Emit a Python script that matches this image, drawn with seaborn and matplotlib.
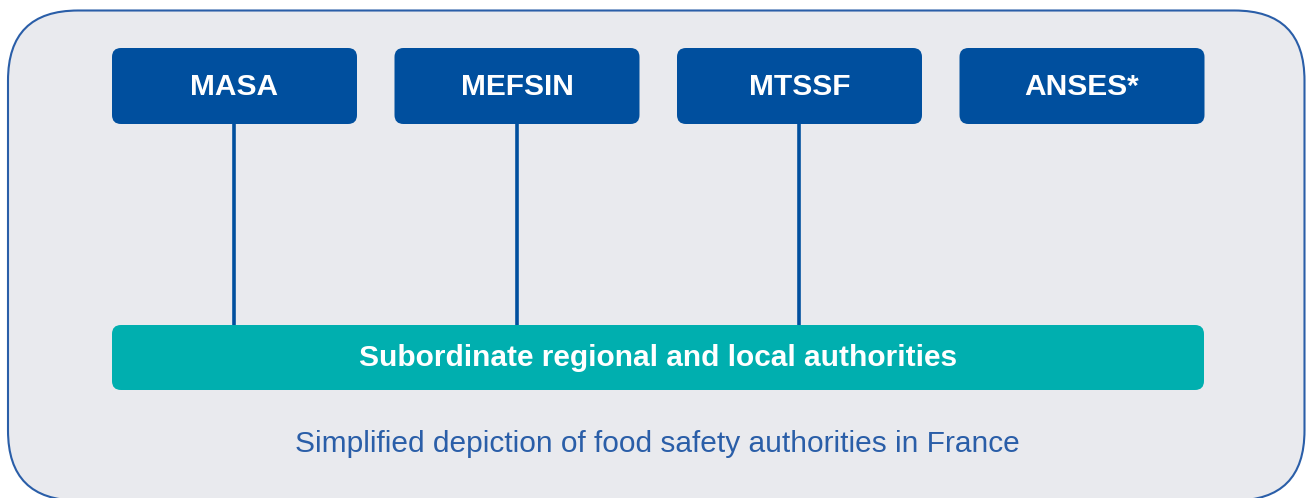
import matplotlib
matplotlib.use("Agg")
import matplotlib.pyplot as plt
from matplotlib.patches import FancyBboxPatch
import seaborn as sns

# ---- data ----
authorities = ["MASA", "MEFSIN", "MTSSF", "ANSES*"]
linked = [True, True, True, False]
subordinate_label = "Subordinate regional and local authorities"
caption = "Simplified depiction of food safety authorities in France"

sns.set_theme(style="white")
plt.rcParams['font.family'] = ['Liberation Sans', 'DejaVu Sans']

W, H = 1306, 498
fig = plt.figure(figsize=(W / 100, H / 100), dpi=100)
ax = fig.add_axes([0, 0, 1, 1])
ax.set_xlim(0, W)
ax.set_ylim(H, 0)
ax.axis("off")

BLUE = "#004F9E"
TEAL = "#00AFAF"
FRAME = "#2A5EA8"
BG = "#E9EAEE"

# outer frame (bottom edge runs just past the image)
ax.add_patch(FancyBboxPatch((8, 10.5), 1296.5, 490,
                            boxstyle="round,pad=0,rounding_size=70",
                            fc=BG, ec=FRAME, lw=1.5, zorder=0))

box_w, box_h = 245, 76
x0, gap = 112, 282.5
top = 48
for i, (name, has_link) in enumerate(zip(authorities, linked)):
    x = x0 + i * gap
    ax.add_patch(FancyBboxPatch((x, top), box_w, box_h,
                                boxstyle="round,pad=0,rounding_size=9",
                                fc=BLUE, ec="none", zorder=2))
    ax.text(x + box_w / 2, top + box_h / 2 + 0.5, name, color="white",
            fontsize=21.5, fontweight="bold", ha="center", va="center", zorder=3)
    if has_link:
        ax.plot([x + box_w / 2 - 0.5] * 2, [top + box_h, 326], color=BLUE,
                lw=2.6, zorder=1, solid_capstyle="butt")

# subordinate bar
ax.add_patch(FancyBboxPatch((112, 325), 1092, 65,
                            boxstyle="round,pad=0,rounding_size=9",
                            fc=TEAL, ec="none", zorder=2))
ax.text(658, 358, subordinate_label, color="white", fontsize=21.5,
        fontweight="bold", ha="center", va="center", zorder=3)

ax.text(657.5, 444, caption, color=FRAME, fontsize=21.5, ha="center",
        va="center", zorder=3)

fig.savefig("out.png", dpi=100)
